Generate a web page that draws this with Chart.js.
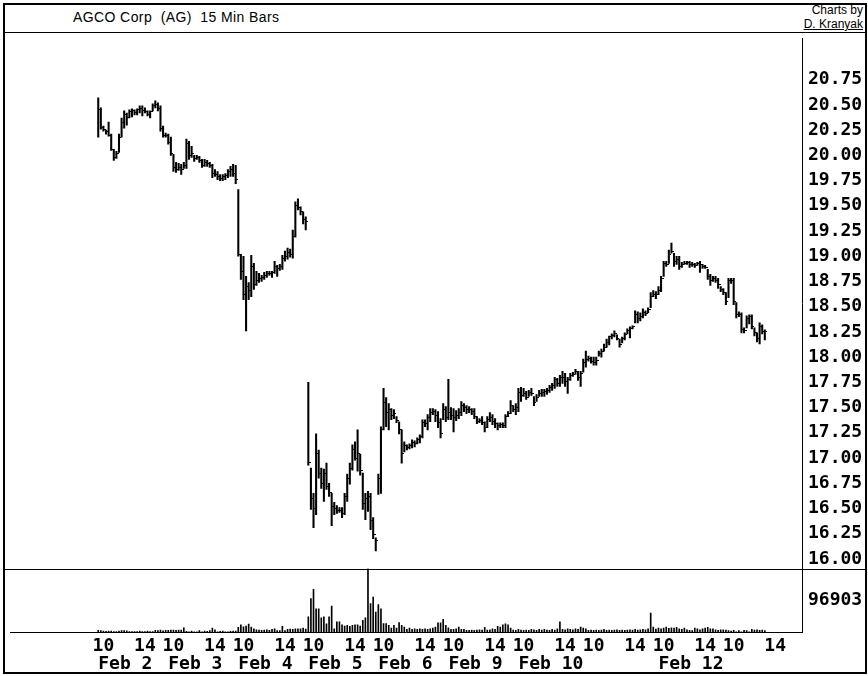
<!DOCTYPE html>
<html lang="en">
<head>
<meta charset="UTF-8">
<title>AGCO Corp (AG) 15 Min Bars</title>
<script src="https://cdn.jsdelivr.net/npm/chart.js@4"></script>
<style>
  body { margin: 0; background: #fff; }
  #page { position: relative; width: 868px; height: 676px; background: #fff; font-family: "Liberation Sans", Arial, sans-serif; color: #000; }
  #frame { position: absolute; left: 3px; top: 3px; width: 864px; height: 671px; border: 2px solid #000; box-sizing: border-box; }
  #title { position: absolute; left: 73px; top: 9px; font-size: 14px; letter-spacing: 0.4px; line-height: 16px; white-space: pre; }
  #credit { position: absolute; right: 5px; top: 3px; font-size: 12px; line-height: 14px; text-align: right; }
  #credit u { text-decoration: underline; }
  #sep { position: absolute; left: 5px; top: 32px; width: 860px; height: 1px; background: #000; }
  #box { position: absolute; left: 5px; top: 33px; width: 860px; height: 639px; }
</style>
</head>
<body>
<div id="page">
  <div id="frame"></div>
  <div id="title">AGCO Corp  (AG)  15 Min Bars</div>
  <div id="credit">Charts by<br><u>D. Kranyak</u></div>
  <div id="sep"></div>
  <div id="box"><canvas id="chart"></canvas></div>
</div>
<script>
// trading days shown, 27 fifteen-minute bars per day (9:30 .. 16:00)
const dates = ['Feb 2', 'Feb 3', 'Feb 4', 'Feb 5', 'Feb 6', 'Feb 9', 'Feb 10', 'Feb 11', 'Feb 12', 'Feb 13'];
const dateShown = ['Feb 2', 'Feb 3', 'Feb 4', 'Feb 5', 'Feb 6', 'Feb 9', 'Feb 10', '', 'Feb 12', ''];
const barsPerDay = 27;
const hourSlots = [2, 18];          // 10:00 and 14:00 bars
const hourLabels = ['10', '14'];

const priceTicks = [16.00, 16.25, 16.50, 16.75, 17.00, 17.25, 17.50, 17.75, 18.00, 18.25,
                    18.50, 18.75, 19.00, 19.25, 19.50, 19.75, 20.00, 20.25, 20.50, 20.75];
const volTicks = [96903];

// one row per day
const highs = [
  20.57,20.47,20.29,20.25,20.33,20.21,20.06,20.04,20.21,20.37,20.44,20.42,20.45,20.46,20.45,20.46,20.49,20.49,20.47,20.44,20.44,20.51,20.54,20.52,20.49,20.29,20.22,
  20.21,20.18,20.01,19.93,19.92,19.91,19.93,20.16,20.14,20.09,20.00,20.00,19.99,19.96,19.96,19.95,19.93,19.91,19.86,19.84,19.81,19.81,19.82,19.86,19.89,19.91,19.90,
  19.66,19.02,19.00,18.80,18.74,19.01,18.93,18.85,18.83,18.81,18.84,18.85,18.85,18.85,18.95,18.91,18.92,19.01,19.05,19.08,19.07,19.26,19.54,19.57,19.49,19.44,19.39,
  17.75,16.90,16.65,17.24,17.08,16.90,16.89,16.95,16.75,16.65,16.56,16.53,16.51,16.51,16.65,16.84,16.95,17.13,17.16,17.28,17.04,16.85,16.65,16.67,16.65,16.41,16.21,
  16.84,17.31,17.69,17.60,17.54,17.49,17.48,17.41,17.36,17.28,17.16,17.13,17.14,17.18,17.17,17.20,17.23,17.38,17.38,17.43,17.49,17.49,17.48,17.46,17.39,17.54,17.51,
  17.78,17.50,17.49,17.47,17.49,17.56,17.54,17.52,17.51,17.49,17.49,17.41,17.39,17.41,17.36,17.41,17.45,17.43,17.39,17.35,17.35,17.35,17.43,17.46,17.57,17.52,17.54,
  17.69,17.70,17.69,17.66,17.67,17.69,17.61,17.63,17.67,17.68,17.68,17.69,17.72,17.74,17.80,17.79,17.82,17.86,17.84,17.80,17.84,17.85,17.88,17.86,17.86,17.98,18.06,
  18.01,18.00,18.00,18.00,18.06,18.08,18.13,18.18,18.21,18.23,18.26,18.22,18.18,18.20,18.24,18.28,18.30,18.31,18.46,18.45,18.44,18.48,18.46,18.49,18.64,18.66,18.65,
  18.70,18.80,18.95,18.95,19.06,19.13,19.03,19.00,19.00,18.94,18.95,18.95,18.95,18.94,18.93,18.94,18.95,18.92,18.91,18.87,18.82,18.80,18.80,18.78,18.70,18.68,18.64,
  18.78,18.78,18.78,18.54,18.45,18.44,18.29,18.41,18.42,18.42,18.29,18.24,18.34,18.32,18.27
];
const lows = [
  20.18,20.26,20.24,20.21,20.19,20.05,19.95,19.97,20.03,20.18,20.27,20.30,20.37,20.38,20.40,20.40,20.42,20.39,20.42,20.39,20.37,20.44,20.47,20.44,20.24,20.18,20.18,
  20.11,20.00,19.84,19.83,19.85,19.81,19.87,19.87,19.96,19.98,19.94,19.96,19.93,19.88,19.89,19.89,19.88,19.78,19.79,19.76,19.75,19.75,19.76,19.78,19.79,19.79,19.72,
  19.00,18.77,18.57,18.26,18.57,18.60,18.67,18.71,18.74,18.75,18.77,18.79,18.81,18.79,18.83,18.80,18.86,18.87,18.95,18.97,18.99,18.98,19.19,19.46,19.41,19.32,19.26,
  16.93,16.49,16.31,16.44,16.80,16.70,16.57,16.69,16.62,16.33,16.44,16.45,16.46,16.41,16.44,16.57,16.74,16.88,16.98,16.87,16.83,16.49,16.39,16.47,16.29,16.20,16.08,
  16.64,16.65,17.28,17.31,17.28,17.38,17.39,17.35,17.24,16.95,17.06,17.08,17.09,17.10,17.11,17.14,17.15,17.20,17.31,17.28,17.36,17.43,17.36,17.30,17.20,17.38,17.36,
  17.38,17.38,17.26,17.37,17.39,17.42,17.46,17.44,17.45,17.43,17.39,17.34,17.35,17.33,17.26,17.30,17.36,17.33,17.30,17.28,17.30,17.30,17.30,17.41,17.44,17.46,17.43,
  17.46,17.56,17.61,17.58,17.61,17.62,17.52,17.56,17.61,17.61,17.61,17.63,17.65,17.67,17.69,17.71,17.71,17.74,17.71,17.64,17.77,17.81,17.83,17.77,17.71,17.85,17.90,
  17.96,17.94,17.92,17.92,18.01,18.00,18.06,18.10,18.12,18.18,18.20,18.17,18.10,18.14,18.17,18.23,18.19,18.28,18.34,18.34,18.36,18.39,18.41,18.44,18.49,18.60,18.58,
  18.62,18.65,18.80,18.90,18.93,19.03,18.90,18.92,18.87,18.89,18.92,18.92,18.89,18.90,18.89,18.91,18.84,18.88,18.88,18.77,18.71,18.75,18.74,18.68,18.65,18.62,18.52,
  18.59,18.73,18.52,18.39,18.40,18.24,18.24,18.29,18.33,18.28,18.21,18.15,18.13,18.23,18.17
];
const closes = [
  20.45,20.28,20.26,20.24,20.20,20.06,19.98,20.02,20.18,20.33,20.40,20.38,20.43,20.44,20.42,20.45,20.46,20.44,20.43,20.40,20.43,20.49,20.50,20.46,20.27,20.20,20.20,
  20.13,20.02,19.88,19.86,19.88,19.86,19.90,20.12,20.00,20.02,19.97,19.98,19.95,19.90,19.93,19.92,19.90,19.82,19.81,19.79,19.77,19.79,19.80,19.84,19.86,19.82,19.76,
  19.02,18.85,18.62,18.70,18.66,18.90,18.72,18.76,18.78,18.79,18.81,18.83,18.83,18.84,18.90,18.88,18.90,18.98,19.00,19.04,19.02,19.20,19.50,19.48,19.44,19.36,19.34,
  16.96,16.60,16.50,17.05,16.85,16.75,16.85,16.72,16.66,16.52,16.50,16.48,16.48,16.45,16.62,16.80,16.90,17.08,17.00,17.05,16.88,16.55,16.60,16.62,16.38,16.24,16.18,
  16.80,17.28,17.55,17.45,17.48,17.42,17.44,17.37,17.28,17.05,17.12,17.10,17.12,17.15,17.14,17.18,17.21,17.35,17.34,17.40,17.45,17.46,17.42,17.35,17.24,17.48,17.40,
  17.45,17.42,17.40,17.42,17.45,17.52,17.50,17.48,17.48,17.46,17.41,17.36,17.37,17.35,17.30,17.38,17.40,17.36,17.34,17.32,17.33,17.32,17.41,17.44,17.52,17.48,17.50,
  17.65,17.62,17.64,17.60,17.65,17.64,17.55,17.60,17.64,17.65,17.66,17.67,17.70,17.72,17.78,17.74,17.80,17.80,17.76,17.78,17.82,17.83,17.86,17.80,17.84,17.95,17.98,
  17.99,17.96,17.95,17.97,18.04,18.06,18.10,18.15,18.20,18.21,18.23,18.18,18.13,18.18,18.22,18.26,18.28,18.30,18.42,18.38,18.40,18.44,18.43,18.47,18.60,18.62,18.62,
  18.66,18.78,18.93,18.92,19.02,19.05,18.95,18.97,18.90,18.92,18.93,18.94,18.92,18.92,18.91,18.93,18.92,18.90,18.89,18.80,18.76,18.78,18.76,18.72,18.67,18.64,18.55,
  18.76,18.76,18.55,18.42,18.42,18.27,18.26,18.38,18.40,18.30,18.24,18.18,18.30,18.25,18.25
];
const volumes = [
  5000,4000,3000,2000,3000,2500,1500,1500,3000,4000,4000,3500,1500,1500,1000,1000,2500,1000,1000,3000,1000,1500,5000,4000,6000,3500,5000,
  5000,6000,6000,5000,6000,6000,13000,2000,500,3000,500,500,4000,500,3000,2000,4000,12000,7000,500,2000,3000,500,500,2000,3000,3000,
  14000,22000,16000,18000,24000,15000,10000,7000,6000,5000,6000,7000,5000,8000,10000,4000,4000,17000,4000,8000,9000,8000,10000,10000,10000,12000,9000,
  46000,102000,130000,71000,71000,43000,46000,25000,46000,79000,10000,31000,31000,22000,18000,20000,17000,20000,22000,22000,18000,36000,43000,193806,87000,107000,61000,
  84000,71000,26000,26000,20000,12000,20000,12000,29000,20000,15000,8000,12000,8000,10000,8000,10000,8000,10000,8000,10000,12000,15000,28000,28000,39000,20000,
  13000,8000,8000,10000,15000,8000,8000,5000,5000,6000,5000,6000,7000,6000,14000,6000,7000,10000,8000,17000,15000,22000,25000,22000,12000,6000,5000,
  8000,6000,5000,6000,5000,8000,7000,5000,8000,6000,8000,6000,5000,8000,6000,10000,31000,8000,7000,10000,8000,7000,10000,8000,15000,12000,10000,
  5000,6000,5000,6000,5000,6000,8000,5000,6000,5000,6000,7000,5000,6000,5000,6000,7000,6000,8000,6000,7000,8000,7000,10000,58000,15000,9000,
  12000,10000,12000,15000,11000,13000,12000,14000,10000,8000,12000,7000,5000,4000,12000,10000,7000,10000,12000,14000,10000,10000,7000,5000,7000,7000,6000,
  4000,3000,5000,500,4000,500,5000,4000,500,8000,6000,7000,5000,6000,4000
];

// tick positions on the bar-index axis
const timeTicks = [];
const dateTicks = [];
dates.forEach((d, di) => {
  hourSlots.forEach((s, k) => timeTicks.push({ value: di * barsPerDay + s, label: hourLabels[k] }));
  if (dateShown[di]) dateTicks.push({ value: di * barsPerDay, label: dateShown[di] });
});

const rangeData = highs.map((h, i) => ({ x: i, y: [lows[i], h] }));
const closeData = closes.map((c, i) => ({ x: i, y: c }));
const volData = volumes.map((v, i) => ({ x: i, y: v }));

// close tick to the right of each bar
const tick = document.createElement('canvas');
tick.width = 5; tick.height = 1;
const tctx = tick.getContext('2d');
tctx.fillStyle = '#000';
tctx.fillRect(3, 0, 2, 1);

const axisFont = { family: 'DejaVu Sans Mono', size: 18, weight: 'bold' };
const xMin = -34.02, xMax = 271.34;

// no extra label padding, the panels fill the frame
function fixSize(prop, size) {
  return s => {
    s[prop] = size;
    s.paddingTop = 0; s.paddingBottom = 0; s.paddingLeft = 0; s.paddingRight = 0;
  };
}

// line between the price and the volume panel, across the label column
const divider = {
  id: 'divider',
  afterDraw(chart) {
    const ctx = chart.ctx;
    const y = Math.round(chart.scales.y.bottom) + 0.5;
    ctx.save();
    ctx.strokeStyle = '#000';
    ctx.lineWidth = 1;
    ctx.beginPath();
    ctx.moveTo(0, y);
    ctx.lineTo(chart.width, y);
    ctx.stroke();
    ctx.restore();
  }
};

new Chart(document.getElementById('chart'), {
  type: 'bar',
  data: {
    datasets: [
      { type: 'bar', data: rangeData, xAxisID: 'x', yAxisID: 'y', backgroundColor: '#000', borderWidth: 0, barThickness: 1.4, grouped: false },
      { type: 'scatter', data: closeData, xAxisID: 'x', yAxisID: 'y', pointStyle: tick, pointRadius: 2 },
      { type: 'bar', data: volData, xAxisID: 'x', yAxisID: 'yv', backgroundColor: '#000', borderWidth: 0, barThickness: 1, grouped: false }
    ]
  },
  options: {
    responsive: true,
    maintainAspectRatio: false,
    animation: false,
    events: [],
    layout: { padding: 0 },
    plugins: { legend: { display: false }, tooltip: { enabled: false } },
    scales: {
      x: {
        type: 'linear', position: 'bottom', min: xMin, max: xMax, offset: false,
        grid: { display: false, drawTicks: false },
        border: { display: true, color: '#000', width: 1 },
        afterBuildTicks: s => { s.ticks = timeTicks.map(t => ({ value: t.value })); },
        afterFit: fixSize('height', 22),
        ticks: { autoSkip: false, maxRotation: 0, minRotation: 0, padding: 4, color: '#000', font: axisFont,
                 callback: (v, i) => timeTicks[i].label }
      },
      x2: {
        type: 'linear', position: 'bottom', min: xMin, max: xMax, offset: false,
        grid: { display: false, drawTicks: false },
        border: { display: false },
        afterBuildTicks: s => { s.ticks = dateTicks.map(t => ({ value: t.value })); },
        afterFit: fixSize('height', 18),
        ticks: { autoSkip: false, maxRotation: 0, minRotation: 0, padding: 0, align: 'start', color: '#000', font: axisFont,
                 callback: (v, i) => dateTicks[i].label }
      },
      y: {
        type: 'linear', position: 'right', stack: 'panels', stackWeight: 535,
        min: 15.905, max: 21.163, offset: false,
        grid: { display: false, drawTicks: false },
        border: { display: true, color: '#000', width: 1 },
        afterBuildTicks: s => { s.ticks = priceTicks.map(v => ({ value: v })); },
        afterFit: fixSize('width', 63),
        ticks: { autoSkip: false, padding: 6, color: '#000', font: axisFont, callback: v => v.toFixed(2) }
      },
      yv: {
        type: 'linear', position: 'right', stack: 'panels', stackWeight: 64,
        min: 0, max: 193806, offset: false,
        grid: { display: false, drawTicks: false },
        border: { display: true, color: '#000', width: 1 },
        afterBuildTicks: s => { s.ticks = volTicks.map(v => ({ value: v })); },
        afterFit: fixSize('width', 63),
        ticks: { autoSkip: false, padding: 6, color: '#000', font: axisFont, callback: v => String(v) }
      }
    }
  },
  plugins: [divider]
});
</script>
</body>
</html>
